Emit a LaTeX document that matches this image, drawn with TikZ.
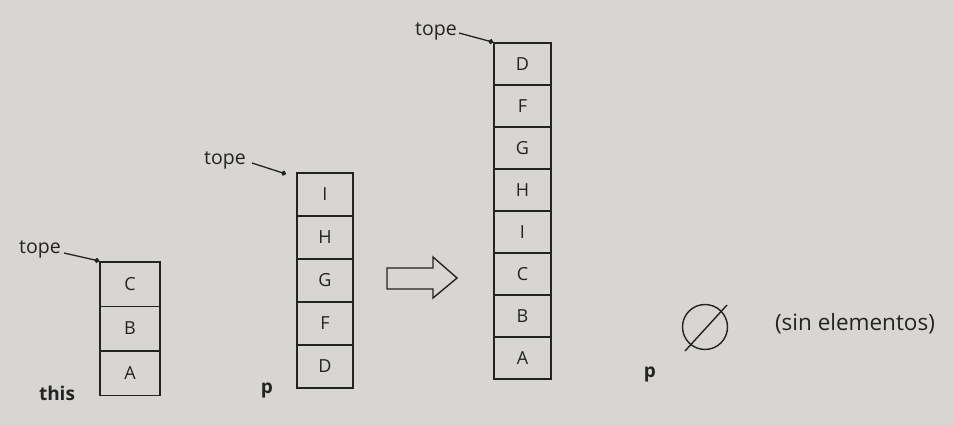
\documentclass[tikz,border=0pt]{standalone}
\usepackage{fontspec}
\setmainfont{Open Sans}
\usetikzlibrary{arrows.meta}
\definecolor{paper}{RGB}{216,214,210}
\definecolor{ink}{RGB}{35,35,35}
\tikzset{
  cellbox/.style={draw=ink, line width=1.5pt, inner sep=0pt, text=ink,
    font=\fontsize{18}{20}\selectfont},
  toplbl/.style={text=ink, inner sep=0pt, font=\fontsize{19.5}{21}\selectfont},
  namelbl/.style={text=ink, inner sep=0pt, font=\bfseries\fontsize{19}{21}\selectfont},
  ptr/.style={draw=ink, line width=1.3pt, -{Circle[length=5pt]}},
}
\begin{document}
\begin{tikzpicture}[x=1pt,y=-1pt]
\fill[paper] (0,0) rectangle (953,425);
\useasboundingbox (0,0) rectangle (953,425);
% stack 1 (this)
\foreach \n/\t/\yy in {c1/C/284, b1/B/328.5, a1/A/373}{
  \node[cellbox, minimum width=60pt, minimum height=44.5pt] (\n) at (130,\yy) {\t};
}
\node[toplbl] (tope1) at (40,249) {tope};
\draw[ptr] (tope1.east) ++(3,4) -- (c1.north west);
\node[namelbl] (this) at (57,393) {this};
% stack 2 (p)
\foreach \n/\t/\yy in {i2/I/194.5, h2/H/237.5, g2/G/280.5, f2/F/323.5, d2/D/366.5}{
  \node[cellbox, minimum width=56pt, minimum height=43pt] (\n) at (325,\yy) {\t};
}
\node[toplbl] (tope2) at (225,160) {tope};
\coordinate (t2e) at (286,174);
\draw[ptr] (tope2.east) ++(6,3) -- (t2e);
\node[namelbl] (p2) at (267,390) {p};
% arrow
\draw[draw=ink, line width=1.4pt, line join=miter]
  (387,268) -- (433,268) -- (433,257) -- (457,278) -- (433,298) -- (433,289) -- (387,289) -- cycle;
% stack 3 (result)
\foreach \n/\t/\yy in {d3/D/64, f3/F/106, g3/G/148, h3/H/190, i3/I/232, c3/C/274, b3/B/316, a3/A/358}{
  \node[cellbox, minimum width=57pt, minimum height=42pt] (\n) at (522.5,\yy) {\t};
}
\node[toplbl] (tope3) at (436,31) {tope};
\draw[ptr] (tope3.east) ++(2,2) -- (d3.north west);
% p empty
\node[namelbl] (p3) at (650,374) {p};
\node[draw=ink, line width=1.4pt, circle, minimum size=45pt, inner sep=0pt] (empty) at (705,327) {};
\coordinate (e1) at (685,351);
\coordinate (e2) at (727,305);
\draw[ink, line width=1.4pt] (e1) -- (e2);
\node[toplbl, font=\fontsize{22.5}{24}\selectfont] (sin) at (855,324) {(sin elementos)};
\end{tikzpicture}
\end{document}
